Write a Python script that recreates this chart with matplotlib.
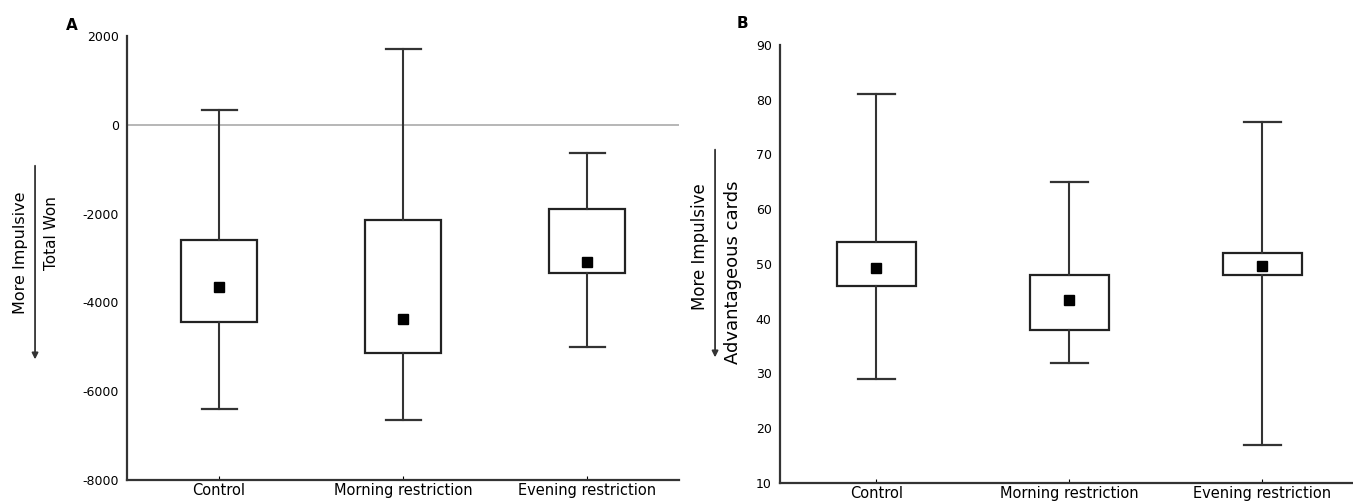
import matplotlib
matplotlib.use("Agg")
import matplotlib.pyplot as plt

plt.rcParams['font.family'] = ['DejaVu Sans']
plt.rcParams['axes.unicode_minus'] = False

groups = ["Control", "Morning restriction", "Evening restriction"]

# panel A: total won
won_low = [-6400, -6650, -5000]
won_q1 = [-4450, -5150, -3330]
won_q3 = [-2590, -2150, -1890]
won_high = [330, 1700, -640]
won_mean = [-3650, -4380, -3100]

# panel B: advantageous cards
adv_low = [29, 32, 17]
adv_q1 = [46, 38, 48]
adv_q3 = [54, 48, 52]
adv_high = [81, 65, 76]
adv_mean = [49.2, 43.5, 49.7]


def make_stats(low, q1, q3, high, mean):
    stats = []
    for i in range(len(low)):
        stats.append(dict(whislo=low[i], q1=q1[i], med=mean[i], q3=q3[i],
                          whishi=high[i], mean=mean[i]))
    return stats


def draw_panel(ax, stats):
    ax.bxp(stats, positions=[1, 2, 3], widths=0.41, showmeans=True,
           showfliers=False, patch_artist=True,
           boxprops=dict(facecolor='white', edgecolor='#222222', linewidth=1.6),
           whiskerprops=dict(color='#333333', linewidth=1.5),
           capprops=dict(color='#333333', linewidth=1.6),
           medianprops=dict(linewidth=0),
           meanprops=dict(marker='s', markerfacecolor='black',
                          markeredgecolor='black', markersize=6.5),
           capwidths=0.19)
    ax.spines['top'].set_visible(False)
    ax.spines['right'].set_visible(False)
    for s in ['left', 'bottom']:
        ax.spines[s].set_color('#333333')
        ax.spines[s].set_linewidth(1.6)
    ax.set_xticks([1, 2, 3])
    ax.set_xticklabels(groups, fontsize=10.5)
    ax.tick_params(axis='x', length=3, direction='in', pad=2)
    ax.tick_params(axis='y', length=0, labelsize=9, pad=6)


fig = plt.figure(figsize=(13.53, 5.03), dpi=100)

ax1 = fig.add_axes([0.0939, 0.0457, 0.408, 0.8827])
draw_panel(ax1, make_stats(won_low, won_q1, won_q3, won_high, won_mean))
ax1.axhline(0, color='#aaaaaa', linewidth=1.2, zorder=0)
ax1.set_xlim(0.5, 3.5)
ax1.set_ylim(-8000, 2000)
ax1.set_yticks(range(-8000, 2001, 2000))

ax2 = fig.add_axes([0.5765, 0.0398, 0.4235, 0.8708])
draw_panel(ax2, make_stats(adv_low, adv_q1, adv_q3, adv_high, adv_mean))
ax2.set_xlim(0.5, 3.47)
ax2.set_ylim(10, 90)
ax2.set_yticks(range(10, 91, 10))

# panel letters
fig.text(0.0532, 0.950, "A", fontsize=11, fontweight='bold', ha='center', va='center')
fig.text(0.5484, 0.954, "B", fontsize=11, fontweight='bold', ha='center', va='center')

# axis titles with "more impulsive" arrows
fig.text(0.0148, 0.497, "More Impulsive", rotation=90, fontsize=11.5,
         ha='center', va='center')
fig.text(0.0384, 0.537, "Total Won", rotation=90, fontsize=11,
         ha='center', va='center')
fig.text(0.5174, 0.509, "More Impulsive", rotation=90, fontsize=12,
         ha='center', va='center')
fig.text(0.5418, 0.459, "Advantageous cards", rotation=90, fontsize=13,
         ha='center', va='center')
for x, y0, y1 in [(0.0259, 0.676, 0.280), (0.5285, 0.708, 0.284)]:
    fig.add_artist(matplotlib.patches.FancyArrowPatch(
        (x, y0), (x, y1), transform=fig.transFigure, arrowstyle='-|>',
        mutation_scale=9, color='#333333', linewidth=1.3))

fig.savefig("out.png", dpi=100)
